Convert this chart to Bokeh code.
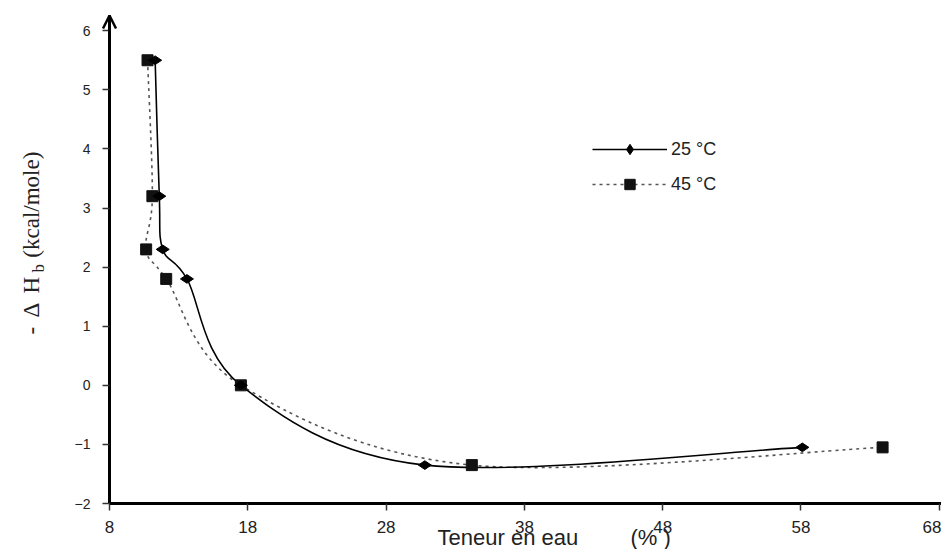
import numpy as np
from bokeh.plotting import figure
from bokeh.models import (Range1d, FixedTicker, Label, Arrow, OpenHead,
                          Legend, LegendItem)
from bokeh.embed import file_html
from bokeh.resources import INLINE

# ---- data ----
water_25 = [11.3, 11.6, 11.85, 13.6, 17.5, 30.8, 58.1]
dh_25 = [5.5, 3.2, 2.3, 1.8, 0.0, -1.35, -1.05]
water_45 = [10.75, 11.1, 10.65, 12.1, 17.5, 34.2, 63.9]
dh_45 = [5.5, 3.2, 2.3, 1.8, 0.0, -1.35, -1.05]
x_ticks = [8, 18, 28, 38, 48, 58, 68]
y_ticks = [-2, -1, 0, 1, 2, 3, 4, 5, 6]
series_labels = ["25 °C", "45 °C"]
x_title = "Teneur en eau"
x_unit = "(% )"


def smooth_segments(xs, ys):
    """Bezier control points of a Catmull-Rom (Excel-like smoothed) curve."""
    x = np.asarray(xs, float)
    y = np.asarray(ys, float)
    n = len(x)
    xp = np.concatenate([[x[0]], x, [x[-1]]])
    yp = np.concatenate([[y[0]], y, [y[-1]]])
    P0x, P1x, P2x, P3x = xp[0:n - 1], xp[1:n], xp[2:n + 1], xp[3:n + 2]
    P0y, P1y, P2y, P3y = yp[0:n - 1], yp[1:n], yp[2:n + 1], yp[3:n + 2]
    return dict(x0=P1x, y0=P1y, x1=P2x, y1=P2y,
                cx0=P1x + (P2x - P0x) / 6.0, cy0=P1y + (P2y - P0y) / 6.0,
                cx1=P2x - (P3x - P1x) / 6.0, cy1=P2y - (P3y - P1y) / 6.0)


# frame covers the whole canvas; axes are pinned at x=8 and y=-2
XMIN, XMAX = 0.118, 68.16
YMIN, YMAX = -2.778, 6.511
X_AXIS_AT, Y_AXIS_AT = 8, -2
Y_TOP = 6.257

p = figure(width=941, height=549, x_range=Range1d(XMIN, XMAX), y_range=Range1d(YMIN, YMAX),
           output_backend="svg", toolbar_location=None,
           min_border=0, min_border_left=0, min_border_right=0, min_border_top=0,
           min_border_bottom=0, background_fill_color="white")
p.xgrid.visible = False
p.ygrid.visible = False
p.outline_line_color = None

for ax in (p.xaxis[0], p.yaxis[0]):
    ax.axis_line_width = 3
    ax.axis_line_color = "black"
    ax.major_tick_in = 0
    ax.major_tick_out = 7
    ax.major_tick_line_width = 1.5
    ax.major_tick_line_color = "#333333"
    ax.minor_tick_line_color = None
    ax.major_label_text_font = "Liberation Sans"
    ax.major_label_text_color = "#222222"

p.xaxis.fixed_location = Y_AXIS_AT
p.xaxis.bounds = (X_AXIS_AT, XMAX)
p.xaxis.ticker = FixedTicker(ticks=x_ticks)
p.xaxis.major_label_text_font_size = "17px"
p.xaxis.major_label_standoff = 10

p.yaxis.fixed_location = X_AXIS_AT
p.yaxis.bounds = (Y_AXIS_AT, Y_TOP)
p.yaxis.ticker = FixedTicker(ticks=y_ticks)
p.yaxis.major_label_text_font_size = "14px"
p.yaxis.major_label_standoff = 12

# arrow head on top of the y axis
p.add_layout(Arrow(end=OpenHead(size=13, line_width=2.5, line_color="black"),
                   x_start=X_AXIS_AT, y_start=6.0, x_end=X_AXIS_AT, y_end=Y_TOP,
                   line_width=3, line_color="black"))

# smoothed curves
s25 = smooth_segments(water_25, dh_25)
s45 = smooth_segments(water_45, dh_45)
p.bezier(line_color="#555555", line_width=1.6, line_dash="3 4", **s45)
p.bezier(line_color="black", line_width=1.6, **s25)

sc45 = p.scatter(water_45, dh_45, marker="square", size=11, color="#111111")
sc25 = p.scatter(water_25, dh_25, marker="diamond", size=13, angle=np.pi / 2,
                 color="black")

# hidden line renderers only used to draw the legend line samples
leg_line25 = p.line(water_25, dh_25, line_color="black", line_width=1.6, visible=False)
leg_line45 = p.line(water_45, dh_45, line_color="#555555", line_width=1.6,
                    line_dash="3 4", visible=False)

legend = Legend(items=[LegendItem(label=series_labels[0], renderers=[leg_line25, sc25]),
                       LegendItem(label=series_labels[1], renderers=[leg_line45, sc45])],
                location=(592, 352), glyph_width=75, glyph_height=26, label_height=26,
                spacing=9, padding=0, margin=0, label_standoff=4,
                border_line_color=None, background_fill_alpha=0,
                label_text_font="Liberation Sans", label_text_font_size="18px",
                label_text_color="#222222")
p.add_layout(legend)

# y axis title: "- Δ H_b (kcal/mole)" rotated
serif = "Liberation Serif"
for txt, yv, xo, fs in [("-", 0.86, -78, "23px"), ("Δ", 1.147, -78, "23px"),
                        ("H", 1.553, -78, "23px"), ("b", 1.909, -71, "17px"),
                        ("(kcal/mole)", 2.16, -78, "23px")]:
    p.add_layout(Label(x=X_AXIS_AT, y=yv, x_offset=xo, text=txt, angle=np.pi / 2,
                       text_font=serif, text_font_size=fs, text_color="#222222",
                       text_align="left", text_baseline="alphabetic"))

# x axis title
p.add_layout(Label(x=31.72, y=Y_AXIS_AT, y_offset=-34, text=x_title,
                   text_font="Liberation Sans", text_font_size="22px",
                   text_color="#222222", text_align="left", text_baseline="alphabetic"))
p.add_layout(Label(x=45.67, y=Y_AXIS_AT, y_offset=-34, text=x_unit,
                   text_font="Liberation Sans", text_font_size="22px",
                   text_color="#222222", text_align="left", text_baseline="alphabetic"))

open("out.html", "w").write(file_html(p, INLINE))
